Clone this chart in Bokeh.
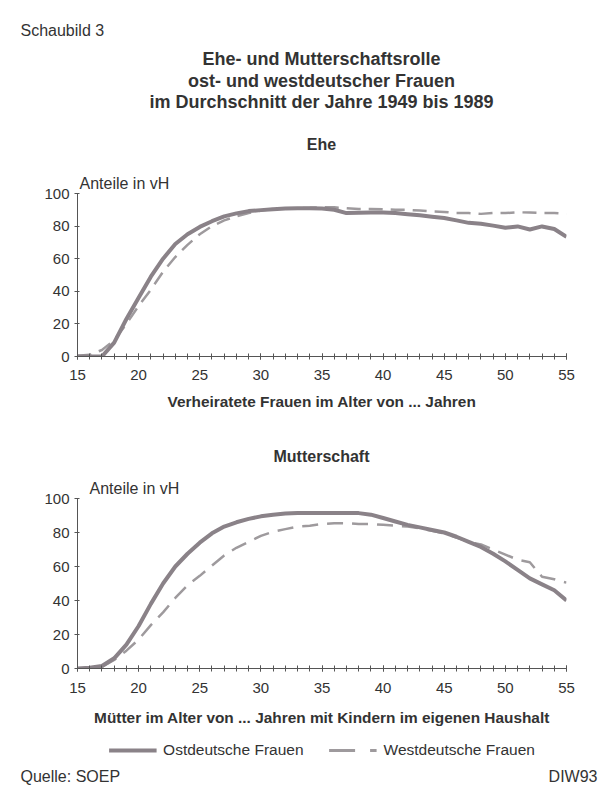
from bokeh.plotting import figure
from bokeh.layouts import column
from bokeh.models import Range1d, FixedTicker, Legend, LegendItem, Label
from bokeh.embed import file_html
from bokeh.resources import INLINE

# ---------------- data ----------------
ages = list(range(15, 56))

ehe_ost = [0, 0, 0, 8.5, 23, 36, 49, 60, 69, 75, 79.5, 83, 86, 87.8, 89.2,
           89.8, 90.4, 90.8, 91, 91, 90.8, 90, 88, 88.2, 88.4, 88.4, 88, 87.3,
           86.6, 85.8, 85, 83.5, 82, 81.4, 80.3, 79, 79.8, 77.9, 79.8, 78.2, 73.4]
ehe_west = [0.5, 1, 4, 10, 20, 31, 41, 52, 61, 68.5, 75, 80, 83.5, 86, 88,
            89.5, 90.5, 91, 91, 91.2, 91.5, 91.5, 91, 90.5, 90.5, 90.3, 90, 90,
            89.5, 89, 88.7, 88, 88, 87.5, 88, 88, 88.5, 88.3, 88, 88, 87.5]

mutter_ost = [0, 0.5, 1.5, 6, 14, 25, 38, 50, 60, 67.5, 74, 79.5, 83.5, 86, 88,
              89.5, 90.5, 91.2, 91.4, 91.4, 91.4, 91.4, 91.4, 91.4, 90.5, 88.5,
              86.5, 84.5, 83, 81.5, 80, 77.5, 74.5, 71.5, 67.5, 63, 58, 53, 49.5,
              46, 40]
mutter_west = [0, 0.5, 1, 5, 10.5, 17, 25.5, 33, 41.5, 49, 54.5, 60.5, 66.5, 71,
               74.5, 78, 80.5, 82, 83.5, 84, 85, 85.5, 85.5, 85, 85, 84.5, 84,
               83.5, 82.5, 81, 79.5, 77, 74.5, 73, 70, 67, 64, 62.5, 54, 52.5, 50.5]

x_ticks = [15, 20, 25, 30, 35, 40, 45, 50, 55]
y_ticks = [0, 20, 40, 60, 80, 100]

label_schaubild = "Schaubild 3"
title_lines = ["Ehe- und Mutterschaftsrolle",
               "ost- und westdeutscher Frauen",
               "im Durchschnitt der Jahre 1949 bis 1989"]
panel_titles = ["Ehe", "Mutterschaft"]
y_unit = "Anteile in vH"
x_labels = ["Verheiratete Frauen im Alter von ... Jahren",
            "Mütter im Alter von ... Jahren mit Kindern im eigenen Haushalt"]
series_names = ["Ostdeutsche Frauen", "Westdeutsche Frauen"]
source_text = "Quelle: SOEP"
credit_text = "DIW93"

# ---------------- styles ----------------
FONT = "Liberation Sans"
TXT = "#333333"
OST_COLOR = "#8a8288"
WEST_COLOR = "#9e9a9d"
W = 603
BL, BR = 77, 37          # left / right borders -> frame spans x 77..566


def text_fig(h):
    f = figure(width=W, height=h, x_range=Range1d(0, W), y_range=Range1d(h, 0),
               output_backend="svg", toolbar_location=None,
               min_border_left=0, min_border_right=0,
               min_border_top=0, min_border_bottom=0,
               x_axis_location=None, y_axis_location=None, frame_align=False)
    f.grid.visible = False
    f.outline_line_color = None
    return f


def add_text(f, x, y, txt, size, bold=False, align="left"):
    f.add_layout(Label(x=x, y=y, text=txt, text_font=FONT, text_font_size=size,
                       text_font_style="bold" if bold else "normal",
                       text_color=TXT, text_align=align, text_baseline="middle"))


def chart(h, top, bottom, title_offset, xlabel, ost, west, dash,
          tick_standoff, label_standoff):
    p = figure(width=W, height=h, x_range=Range1d(15, 55), y_range=Range1d(0, 100),
               output_backend="svg", toolbar_location=None,
               min_border_left=BL, min_border_right=BR,
               min_border_top=top, min_border_bottom=bottom, frame_align=False)
    p.grid.visible = False
    p.outline_line_color = None
    p.title.text = y_unit
    p.title.align = "left"
    p.title.offset = title_offset
    p.title.text_font = FONT
    p.title.text_font_size = "16px"
    p.title.text_font_style = "normal"
    p.title.text_color = TXT
    p.title.standoff = 4

    p.xaxis.ticker = FixedTicker(ticks=x_ticks, minor_ticks=ages)
    p.yaxis.ticker = FixedTicker(ticks=y_ticks)
    for ax in (p.xaxis, p.yaxis):
        ax.axis_line_color = "#555555"
        ax.major_tick_line_color = "#555555"
        ax.minor_tick_line_color = "#555555"
        ax.major_label_text_font = FONT
        ax.major_label_text_font_size = "15px"
        ax.major_label_text_color = TXT
    p.xaxis.major_tick_in = 3
    p.xaxis.major_tick_out = 3
    p.xaxis.minor_tick_in = 3
    p.xaxis.minor_tick_out = 3
    p.xaxis.major_label_standoff = tick_standoff
    p.yaxis.major_tick_in = 2
    p.yaxis.major_tick_out = 3
    p.yaxis.minor_tick_line_color = None
    p.yaxis.major_label_standoff = 5
    p.xaxis.axis_label = xlabel
    p.xaxis.axis_label_text_font = FONT
    p.xaxis.axis_label_text_font_size = "15.4px"
    p.xaxis.axis_label_text_font_style = "bold"
    p.xaxis.axis_label_text_color = TXT
    p.xaxis.axis_label_standoff = label_standoff

    r_west = p.line(ages, west, line_color=WEST_COLOR, line_width=2.5, line_dash=dash)
    r_ost = p.line(ages, ost, line_color=OST_COLOR, line_width=4)
    return p, r_ost, r_west


# ---------------- header ----------------
head = text_fig(170)
add_text(head, 20, 30, label_schaubild, "16px")
for yy, line in zip([58, 80, 101.5], title_lines):
    add_text(head, 321, yy, line, "18px", bold=True, align="center")
add_text(head, 321, 144, panel_titles[0], "16px", bold=True, align="center")

p1, o1, w1 = chart(260, 22, 74, 2, x_labels[0], ehe_ost, ehe_west, "14 8", 10, 10)

mid = text_fig(40)
add_text(mid, 321, 26, panel_titles[1], "16px", bold=True, align="center")

p2, o2, w2 = chart(266, 28, 68, 12, x_labels[1], mutter_ost, mutter_west, "16 9", 11, 13)

# ---------------- legend strip ----------------
# the series are drawn here outside the visible y range; only the legend shows
leg = figure(width=W, height=28, x_range=Range1d(15, 55), y_range=Range1d(200, 300),
             output_backend="svg", toolbar_location=None,
             min_border_left=40, min_border_right=0,
             min_border_top=0, min_border_bottom=0,
             x_axis_location=None, y_axis_location=None, frame_align=False)
leg.grid.visible = False
leg.outline_line_color = None
lo = leg.line(ages, mutter_ost, line_color=OST_COLOR, line_width=4)
lw = leg.line(ages, mutter_west, line_color=WEST_COLOR, line_width=3, line_dash="26 15")
legend = Legend(items=[LegendItem(label=series_names[0], renderers=[lo]),
                       LegendItem(label=series_names[1], renderers=[lw])],
                orientation="horizontal", location="center",
                glyph_width=48, glyph_height=12, label_standoff=7, spacing=25,
                padding=0, margin=0, border_line_color=None,
                background_fill_alpha=0,
                label_text_font=FONT, label_text_font_size="15.5px",
                label_text_color=TXT)
leg.add_layout(legend, "center")

foot = text_fig(22)
add_text(foot, 20, 12, source_text, "16px")
add_text(foot, 597, 12, credit_text, "16px", align="right")

layout = column(head, p1, mid, p2, leg, foot, spacing=0)
open("out.html", "w").write(file_html(layout, INLINE))
